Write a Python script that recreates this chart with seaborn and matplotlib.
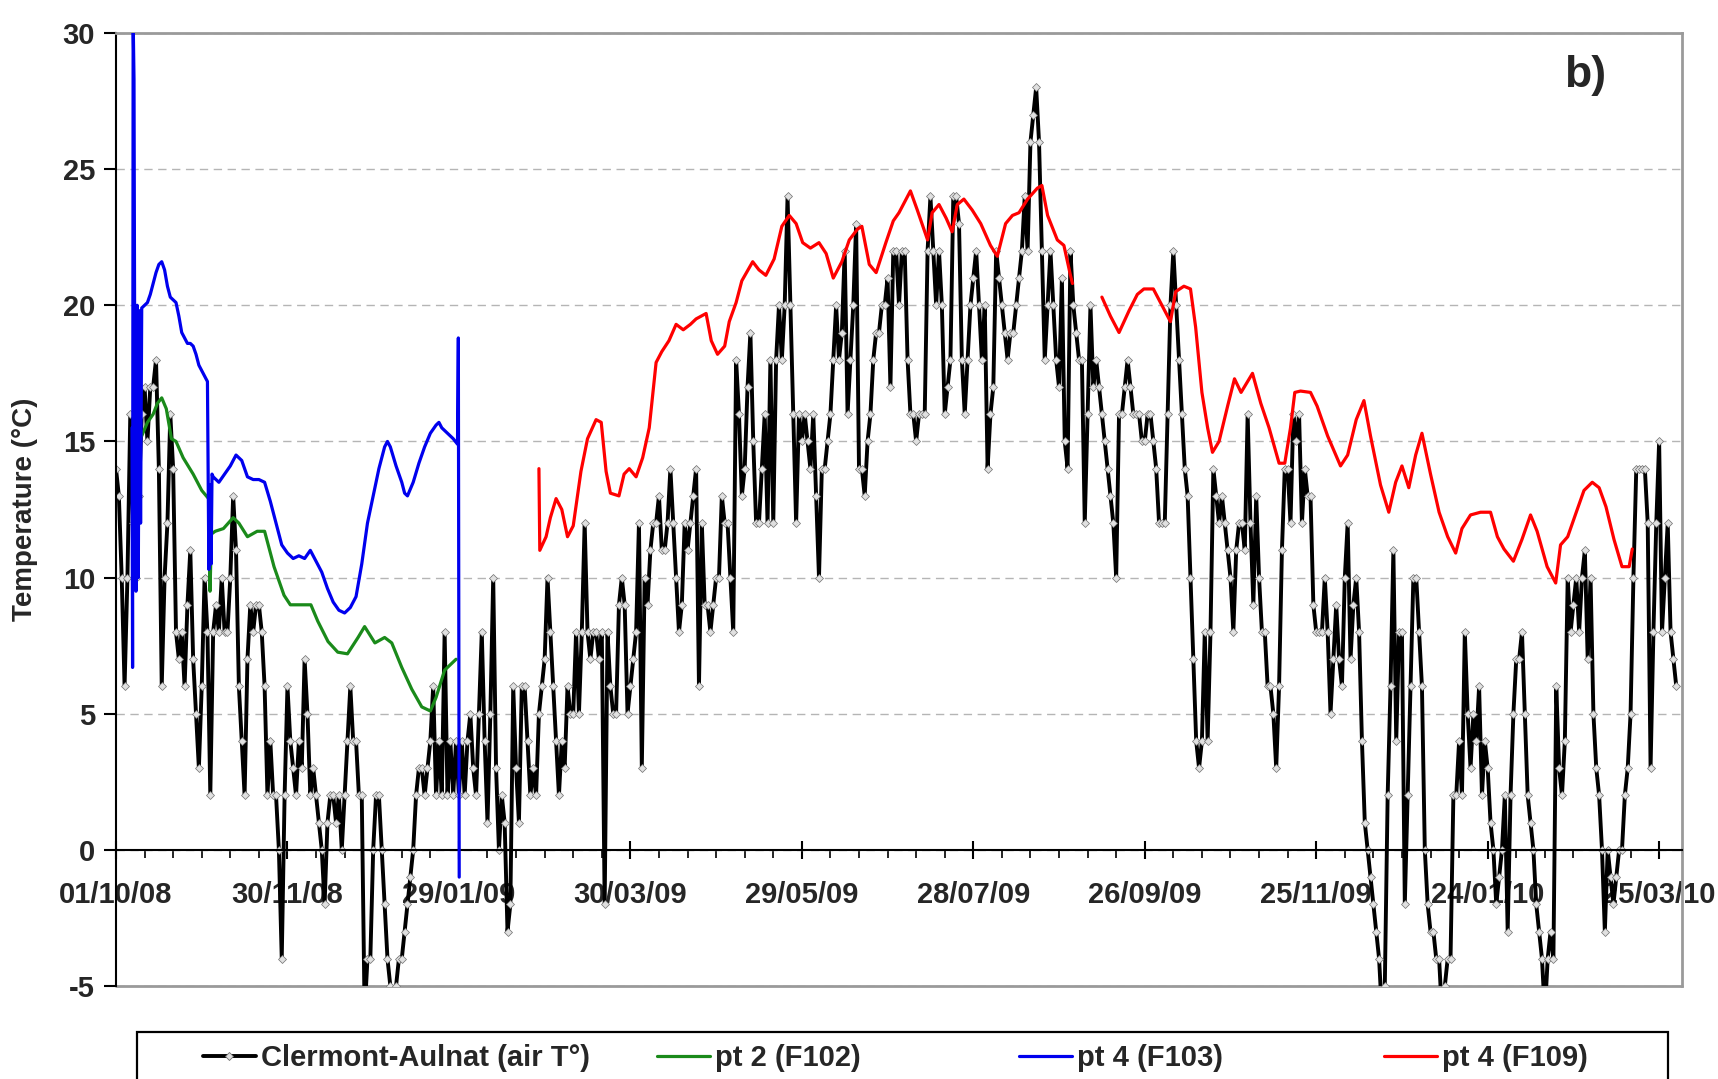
import numpy as np
import pandas as pd
import matplotlib
matplotlib.use("Agg")
import matplotlib.pyplot as plt
import matplotlib.dates as mdates
from matplotlib.ticker import FixedLocator
from matplotlib.patches import Rectangle
from matplotlib.lines import Line2D
import seaborn as sns

START = "2008-10-01"

# Clermont-Aulnat daily air temperature (deg C), one value per day from 01/10/08
air_d000 = [14, 13, 10, 6, 10, 16, 12, 10, 13, 16,
            17, 15, 17, 17, 18, 14, 6, 10, 12, 16,
            14, 8, 7, 8, 6, 9, 11, 7, 5, 3,
            6, 10, 8, 2, 8, 9, 8, 10, 8, 8,
            10, 13, 11, 6, 4, 2, 7, 9, 8, 9,
            9, 8, 6, 2, 4, 2, 2, 0, -4, 2,
            6, 4, 3, 2, 4, 3, 7, 5, 2, 3,
            2, 1, 0, -2, 1, 2, 2, 1, 2, 0,
            2, 4, 6, 4, 4, 2, 2, -6, -4, -4,
            0, 2, 2, 0, -2, -4, -5, -6, -5, -4]
air_d100 = [-4, -3, -2, -1, 0, 2, 3, 3, 2, 3,
            4, 6, 2, 4, 2, 8, 2, 4, 2, 4,
            2, 4, 2, 4, 5, 3, 2, 5, 8, 4,
            1, 5, 10, 3, 0, 2, 1, -3, -2, 6,
            3, 1, 6, 6, 4, 2, 3, 2, 5, 6,
            7, 10, 8, 6, 4, 2, 4, 3, 6, 5,
            5, 8, 5, 8, 12, 8, 7, 8, 8, 7,
            8, -2, 8, 6, 5, 5, 9, 10, 9, 5,
            6, 7, 8, 12, 3, 10, 9, 11, 12, 12,
            13, 11, 11, 12, 14, 12, 10, 8, 9, 12]
air_d200 = [11, 12, 13, 14, 6, 12, 9, 9, 8, 9,
            10, 10, 13, 12, 12, 10, 8, 18, 16, 13,
            14, 17, 19, 15, 12, 12, 14, 16, 12, 18,
            12, 18, 20, 18, 20, 24, 20, 16, 12, 16,
            15, 16, 15, 14, 16, 13, 10, 14, 14, 15,
            16, 18, 20, 18, 19, 22, 16, 18, 20, 23,
            14, 14, 13, 15, 16, 18, 19, 19, 20, 20,
            21, 17, 22, 22, 20, 22, 22, 18, 16, 16,
            15, 16, 16, 16, 22, 24, 22, 20, 22, 20,
            16, 17, 18, 24, 24, 23, 18, 16, 18, 20]
air_d300 = [21, 22, 20, 18, 20, 14, 16, 17, 22, 21,
            20, 19, 18, 19, 19, 20, 21, 22, 24, 22,
            26, 27, 28, 26, 22, 18, 20, 22, 20, 18,
            17, 21, 15, 14, 22, 20, 19, 18, 18, 12,
            16, 20, 17, 18, 17, 16, 15, 14, 13, 12,
            10, 16, 16, 17, 18, 17, 16, 16, 16, 15,
            15, 16, 16, 15, 14, 12, 12, 12, 16, 20,
            22, 20, 18, 16, 14, 13, 10, 7, 4, 3,
            4, 8, 4, 8, 14, 13, 12, 13, 12, 11,
            10, 8, 11, 12, 12, 11, 16, 12, 9, 13]
air_d400 = [10, 8, 8, 6, 6, 5, 3, 6, 11, 14,
            14, 12, 16, 15, 16, 12, 14, 13, 13, 9,
            8, 8, 8, 10, 8, 5, 7, 9, 7, 6,
            10, 12, 7, 9, 10, 8, 4, 1, 0, -1,
            -2, -3, -4, -6, -5, 2, 6, 11, 4, 8,
            8, -2, 2, 6, 10, 10, 8, 6, 0, -2,
            -3, -3, -4, -4, -6, -5, -4, -4, 2, 2,
            4, 2, 8, 5, 3, 5, 4, 6, 2, 4,
            3, 1, 0, -2, -1, 0, 2, -3, 2, 5,
            7, 7, 8, 5, 2, 1, 0, -2, -3, -4]
air_d500 = [-6, -4, -3, -4, 6, 3, 2, 4, 10, 8,
            9, 10, 8, 10, 11, 7, 10, 5, 3, 2,
            0, -3, 0, -1, -2, -1, 0, 0, 2, 3,
            5, 10, 14, 14, 14, 14, 12, 3, 8, 12,
            15, 8, 10, 12, 8, 7, 6]

# pt 2 (F102): day offsets from 01/10/08 and temperatures
green_days = [9.0, 11, 13, 14.5, 16, 17.6, 19.4, 21, 23.5, 27,
              30, 32.4, 32.9, 33.4, 34.7, 37.6, 41, 43, 46, 49.4,
              52, 55.3, 58.8, 61, 64.7, 68.2, 70.6, 74.2, 77.6, 81,
              84.7, 87, 90.6, 94, 96.5, 100, 103.5, 107, 110, 112,
              115, 119]
green_vals = [15.2, 15.7, 16.0, 16.4, 16.6, 16.2, 15.1, 15.0, 14.4, 13.8,
              13.2, 12.9, 9.5, 11.6, 11.7, 11.8, 12.2, 12.0, 11.5, 11.7,
              11.7, 10.4, 9.35, 9.0, 9.0, 9.0, 8.4, 7.65, 7.26, 7.2,
              7.8, 8.2, 7.6, 7.8, 7.6, 6.7, 5.9, 5.25, 5.1, 5.6,
              6.6, 7.0]

# pt 4 (F103)
blue_days = [5.6, 5.8, 6.0, 6.3, 6.6, 7.0, 7.4, 7.8, 8.2, 8.6, 9.0,
             10, 11, 12, 13, 14, 15, 16, 17, 18, 19, 20, 21, 22, 23, 24,
             25, 26, 27, 28, 29, 30, 31, 32,
             32.5, 33.0, 33.3, 33.6,
             34, 36, 38, 40, 42, 44, 46, 48, 50, 52, 54, 56, 58, 60, 62, 64,
             66, 68, 70, 72, 74, 76, 78, 80, 82, 84, 86, 88, 90, 92, 94,
             95, 96, 98, 100, 101, 102, 104, 106, 108, 110, 112, 113, 114,
             116, 118, 119.5, 119.8, 120.1]
blue_vals = [15.5, 6.7, 30.5, 28.3, 16.0, 9.5, 20.0, 10.0, 19.8, 12.0, 19.9,
             20.0, 20.1, 20.4, 20.8, 21.2, 21.5, 21.6, 21.3, 20.7, 20.3, 20.2,
             20.1, 19.6, 19.0, 18.8, 18.6, 18.6, 18.5, 18.2, 17.8, 17.6, 17.4,
             17.2,
             10.3, 13.4, 10.5, 13.8,
             13.7, 13.5, 13.8, 14.1, 14.5, 14.3, 13.7, 13.6, 13.6, 13.5, 12.8,
             12.0, 11.2, 10.9, 10.7, 10.8, 10.7, 11.0, 10.6, 10.2, 9.6, 9.1,
             8.8, 8.7, 8.9, 9.3, 10.5, 12.0, 13.0, 14.0, 14.8,
             15.0, 14.8, 14.1, 13.5, 13.1, 13.0, 13.5, 14.2, 14.8, 15.3, 15.6,
             15.7, 15.5, 15.3, 15.1, 14.9, 18.8, -1.0]

# pt 4 (F109), two recorded periods
red1_days = [148.0, 148.3, 150.5, 152, 154, 156, 158, 160, 162.7, 165,
             168, 169.8, 171.5, 173, 176, 177.8, 179.6, 182, 184.3, 186.6,
             189, 191, 193.5, 196, 198.5, 201, 203, 206.5, 208.3, 210.5,
             213, 214.6, 217, 219, 222.8, 225, 227.4, 230.3, 233, 235.6,
             238, 240.3, 243, 246, 248.5, 251, 254, 256.6, 259.5, 261,
             263.6, 266, 269.4, 272, 274, 278, 280.4, 284, 285.6, 288,
             290.5, 292.6, 294.4, 296.7, 299.6, 302.6, 306, 308.4, 311.3, 313.7,
             316, 319, 322.4, 324, 326, 329.4, 331.7, 334, 334.7]
red1_vals = [14.0, 11.0, 11.5, 12.2, 12.9, 12.5, 11.5, 11.9, 13.9, 15.1,
             15.8, 15.7, 13.9, 13.1, 13.0, 13.8, 14.0, 13.7, 14.4, 15.5,
             17.9, 18.3, 18.7, 19.3, 19.1, 19.3, 19.5, 19.7, 18.7, 18.2,
             18.5, 19.4, 20.1, 20.9, 21.6, 21.3, 21.1, 21.7, 22.9, 23.3,
             23.0, 22.3, 22.1, 22.3, 21.9, 21.0, 21.6, 22.4, 22.8, 22.9,
             21.5, 21.2, 22.3, 23.1, 23.4, 24.2, 23.5, 22.4, 23.4, 23.7,
             23.2, 22.7, 23.7, 23.9, 23.5, 23.0, 22.2, 21.8, 23.0, 23.3,
             23.4, 23.9, 24.3, 24.4, 23.3, 22.4, 22.2, 21.1, 20.8]
red2_days = [345, 348, 351, 354.5, 357.4, 359.7, 363, 366, 369, 370.8,
             373.7, 376, 377.8, 380, 382, 383.7, 386, 389, 391.4, 393.7,
             397.7, 400.6, 403.5, 407, 409, 411, 412.5, 414.5, 418, 420.3,
             424, 428.5, 431, 434, 436.7, 439, 442.5, 445.4, 447.8, 450,
             452.4, 454.8, 457, 460, 463, 466, 468.8, 471, 474, 477.5,
             481, 483.4, 485.7, 489, 492, 495, 497.3, 500.8, 503.8, 505.5,
             508, 511, 513.7, 516.6, 519, 521.4, 524.2, 527, 529.5, 530.6]
red2_vals = [20.3, 19.6, 19.0, 19.8, 20.4, 20.6, 20.6, 20.0, 19.4, 20.5,
             20.7, 20.6, 19.2, 16.8, 15.5, 14.6, 15.0, 16.3, 17.3, 16.8,
             17.5, 16.4, 15.5, 14.2, 14.2, 15.5, 16.8, 16.85, 16.8, 16.3,
             15.2, 14.1, 14.5, 15.8, 16.5, 15.2, 13.4, 12.4, 13.5, 14.1,
             13.3, 14.5, 15.3, 13.8, 12.4, 11.5, 10.9, 11.8, 12.3, 12.4,
             12.4, 11.5, 11.05, 10.6, 11.4, 12.3, 11.7, 10.4, 9.8, 11.2,
             11.5, 12.4, 13.2, 13.5, 13.3, 12.6, 11.4, 10.4, 10.4, 11.05]

tick_dates = ["2008-10-01", "2008-11-30", "2009-01-29", "2009-03-30", "2009-05-29",
              "2009-07-28", "2009-09-26", "2009-11-25", "2010-01-24", "2010-03-25"]
series_labels = ["Clermont-Aulnat (air T\u00b0)", "pt 2 (F102)", "pt 4 (F103)", "pt 4 (F109)"]
series_colors = ["black", "#1a8a1a", "#0000ee", "#ff0000"]

# ---------------------------------------------------------------------------
start = pd.Timestamp(START)
def to_dates(days):
    return start + pd.to_timedelta(np.asarray(days, dtype=float), unit="D")

air = air_d000 + air_d100 + air_d200 + air_d300 + air_d400 + air_d500
air_dates = to_dates(np.arange(len(air)))

sns.set_theme(style="white")
plt.rcParams["font.family"] = ["Liberation Sans", "DejaVu Sans"]
plt.rcParams["font.weight"] = "bold"
plt.rcParams["axes.labelweight"] = "bold"
plt.rcParams["axes.unicode_minus"] = False

fig = plt.figure(figsize=(17.18, 10.79), dpi=100)
L, R, T, B = 116, 1682, 33, 986
ax = fig.add_axes([L / 1718, 1 - B / 1079, (R - L) / 1718, (B - T) / 1079])

sns.lineplot(x=air_dates, y=air, ax=ax, color=series_colors[0], lw=2.8,
             marker="D", markersize=3.6, markerfacecolor="#e0e0e0",
             markeredgecolor="#707070", markeredgewidth=0.5, sort=False, zorder=2)
sns.lineplot(x=to_dates(green_days), y=green_vals, ax=ax, color=series_colors[1],
             lw=2.3, sort=False, zorder=3)
sns.lineplot(x=to_dates(blue_days), y=blue_vals, ax=ax, color=series_colors[2],
             lw=2.3, sort=False, zorder=3)
sns.lineplot(x=to_dates(red1_days), y=red1_vals, ax=ax, color=series_colors[3],
             lw=2.3, sort=False, zorder=3)
sns.lineplot(x=to_dates(red2_days), y=red2_vals, ax=ax, color=series_colors[3],
             lw=2.3, sort=False, zorder=3)
if ax.get_legend() is not None:
    ax.get_legend().remove()

ax.set_xlim(start, start + pd.Timedelta(days=548))
ax.set_ylim(-5, 30)

# y axis
ax.set_yticks(np.arange(-5, 31, 5))
ax.tick_params(axis="y", which="major", direction="out", length=9, width=1.5,
               color="black", labelsize=21, pad=6, left=True)
ax.yaxis.grid(True, linestyle=(0, (6, 4)), color="#b5b5b5", lw=1.0)
ax.xaxis.grid(False)
ax.set_ylabel("Temperature (\u00b0C)", fontsize=20, fontweight="bold")
ax.yaxis.set_label_coords(-0.050, 0.5)

# x axis at y = 0
major = mdates.date2num(pd.to_datetime(tick_dates))
minor = mdates.date2num(to_dates(np.arange(0, 549, 10)))
ax.xaxis.set_major_locator(FixedLocator(major))
ax.xaxis.set_minor_locator(FixedLocator(minor))
ax.xaxis.set_major_formatter(mdates.DateFormatter("%d/%m/%y"))
ax.tick_params(axis="x", which="major", direction="inout", length=13, width=1.5,
               color="black", labelsize=21, pad=16, bottom=True)
ax.tick_params(axis="x", which="minor", direction="out", length=6, width=1.2,
               color="black", bottom=True)
ax.set_xlabel("")

ax.spines["bottom"].set_position(("data", 0))
ax.spines["bottom"].set_color("black")
ax.spines["bottom"].set_linewidth(1.5)
ax.spines["left"].set_color("black")
ax.spines["left"].set_linewidth(1.5)
for s in ("top", "right"):
    ax.spines[s].set_color("#9a9a9a")
    ax.spines[s].set_linewidth(2)
ax.axhline(-5, color="#9a9a9a", lw=2, clip_on=False, zorder=1)

# "b)" panel tag
fig.text(1585 / 1718, 1 - 75 / 1079, "b)", fontsize=32, fontweight="bold",
         ha="center", va="center")

# legend below the plot: one entry per position
handles = [
    Line2D([], [], color=series_colors[0], lw=2.8, marker="D", markersize=4.5,
           markerfacecolor="#e0e0e0", markeredgecolor="#707070", markeredgewidth=0.6),
    Line2D([], [], color=series_colors[1], lw=2.3),
    Line2D([], [], color=series_colors[2], lw=2.3),
    Line2D([], [], color=series_colors[3], lw=2.3),
]
entry_x = [203, 657, 1019, 1384]
entry_y = 1 - 1058 / 1079
for h, lab, xpx in zip(handles, series_labels, entry_x):
    fig.legend([h], [lab], loc="center left",
               bbox_to_anchor=(xpx / 1718, entry_y), bbox_transform=fig.transFigure,
               frameon=False, prop={"size": 21, "weight": "bold"},
               handlelength=1.8, handletextpad=0.2, borderpad=0, borderaxespad=0)
top_y = 1 - 1032 / 1079
fig.add_artist(Rectangle((137 / 1718, -0.02), (1668 - 137) / 1718, top_y + 0.02,
                         transform=fig.transFigure, fill=False,
                         edgecolor="black", lw=1.6))

fig.savefig("out.png", dpi=100)
